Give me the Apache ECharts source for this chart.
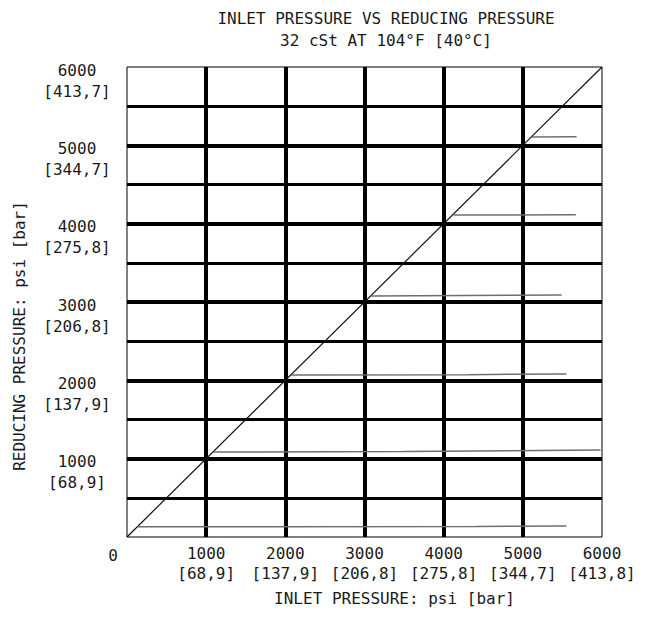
<!DOCTYPE html>
<html>
<head>
<meta charset="utf-8">
<script src="https://cdn.jsdelivr.net/npm/echarts@6/dist/echarts.min.js"></script>
<style>
html,body{margin:0;padding:0;background:#fff;}
#chart{width:645px;height:618px;}
</style>
</head>
<body>
<div id="chart"></div>
<script>
// ---- data ----
const titleText = 'INLET PRESSURE VS REDUCING PRESSURE';
const subtitleText = '32 cSt AT 104°F [40°C]';
const xAxisName = 'INLET PRESSURE: psi [bar]';
const yAxisName = 'REDUCING PRESSURE: psi [bar]';
const psiTicks = [0, 1000, 2000, 3000, 4000, 5000, 6000];
const barLabelsX = ['', '[68,9]', '[137,9]', '[206,8]', '[275,8]', '[344,7]', '[413,8]'];
const barLabelsY = ['', '[68,9]', '[137,9]', '[206,8]', '[275,8]', '[344,7]', '[413,7]'];
const referenceLine = [[0, 0], [6000, 6000]];
const curve150 = [[130, 130], [4400, 135], [5550, 142]];
const curve1000 = [[1090, 1085], [3500, 1090], [5980, 1110]];
const curve2000 = [[2070, 2068], [4300, 2072], [5550, 2082]];
const curve3000 = [[3085, 3078], [5490, 3088]];
const curve4000 = [[4125, 4110], [5670, 4114]];
const curve5000 = [[5115, 5105], [5680, 5108]];

const FONT = 'DejaVu Sans Mono';
const TXT = '#1a1a1a';

function lineSeries(data, color, width) {
  return {
    type: 'line', data: data, symbol: 'none', silent: true,
    lineStyle: { color: color, width: width }, z: 5
  };
}

const chart = echarts.init(document.getElementById('chart'), null, { renderer: 'svg' });
chart.setOption({
  animation: false,
  backgroundColor: '#fff',
  title: {
    text: titleText + '\n' + subtitleText,
    left: 381, top: 2, textAlign: 'center',
    textStyle: { fontFamily: FONT, fontWeight: 'normal', fontSize: 16, color: TXT, lineHeight: 22 }
  },
  grid: { left: 127, right: 43, top: 67, bottom: 81, show: true, borderColor: '#000', borderWidth: 1, backgroundColor: '#fff' },
  xAxis: {
    type: 'value', min: 0, max: 6000, interval: 1000,
    name: xAxisName, nameLocation: 'middle', nameGap: 53,
    nameTextStyle: { fontFamily: FONT, fontSize: 16, color: TXT, padding: [0, 0, 0, 60] },
    axisLine: { show: false }, axisTick: { show: false },
    axisLabel: {
      margin: 6, fontFamily: FONT, fontSize: 16, color: TXT, lineHeight: 20,
      formatter: function (v) {
        const i = psiTicks.indexOf(v);
        if (v === 0) return '{z|0}';
        return v + '\n' + barLabelsX[i];
      },
      rich: { z: { fontFamily: FONT, fontSize: 16, color: TXT, padding: [4, 28, 0, 0] } }
    },
    splitLine: { show: true, showMinLine: false, showMaxLine: false, lineStyle: { color: '#000', width: 4 } }
  },
  yAxis: {
    type: 'value', min: 0, max: 6000, interval: 1000,
    name: yAxisName, nameLocation: 'middle', nameGap: 100, nameRotate: 90,
    nameTextStyle: { fontFamily: FONT, fontSize: 16, color: TXT, padding: [0, 68, 0, 0] },
    axisLine: { show: false }, axisTick: { show: false },
    minorTick: { show: false, splitNumber: 2 },
    minorSplitLine: { show: true, lineStyle: { color: '#000', width: 3 } },
    axisLabel: {
      margin: 50, align: 'center', verticalAlign: 'top', fontFamily: FONT, fontSize: 16, color: TXT,
      formatter: function (v) {
        const i = psiTicks.indexOf(v);
        if (v === 0) return '';
        return '{a|' + v + '}\n{b|' + barLabelsY[i] + '}';
      },
      rich: {
        a: { fontFamily: FONT, fontSize: 16, color: TXT, lineHeight: 6 },
        b: { fontFamily: FONT, fontSize: 16, color: TXT, lineHeight: 36 }
      }
    },
    splitLine: { show: true, showMinLine: false, showMaxLine: false, lineStyle: { color: '#000', width: 4 } }
  },
  series: [
    lineSeries(referenceLine, '#111', 1.2),
    lineSeries(curve150, '#6e6e6e', 1.5),
    lineSeries(curve1000, '#6e6e6e', 1.5),
    lineSeries(curve2000, '#6e6e6e', 1.5),
    lineSeries(curve3000, '#6e6e6e', 1.5),
    lineSeries(curve4000, '#6e6e6e', 1.5),
    lineSeries(curve5000, '#6e6e6e', 1.5)
  ]
});
</script>
</body>
</html>
